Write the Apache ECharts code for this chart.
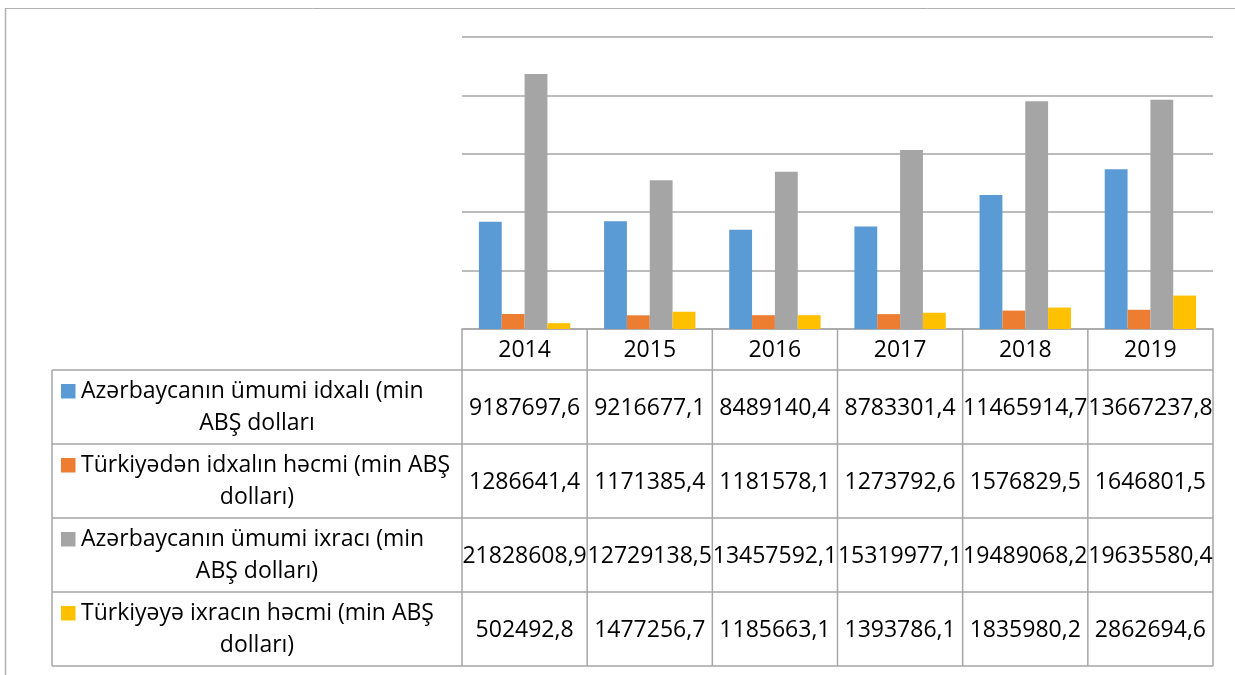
<!DOCTYPE html>
<html>
<head>
<meta charset="utf-8">
<script src="https://cdn.jsdelivr.net/npm/echarts@6/dist/echarts.min.js"></script>
<style>
  html, body { margin: 0; padding: 0; background: #fff; }
  #chart { width: 1235px; height: 675px; }
</style>
</head>
<body>
<div id="chart"></div>
<script>
// Years along the category axis
const years = ['2014', '2015', '2016', '2017', '2018', '2019'];

// Series names (first line / second line as shown in the data table)
const seriesNames = [
  'Azərbaycanın ümumi idxalı (min ABŞ dolları',
  'Türkiyədən idxalın həcmi (min ABŞ dolları)',
  'Azərbaycanın ümumi ixracı (min ABŞ dolları)',
  'Türkiyəyə ixracın həcmi (min ABŞ dolları)'
];
const nameLines = [
  ['Azərbaycanın ümumi idxalı (min', 'ABŞ dolları'],
  ['Türkiyədən idxalın həcmi (min ABŞ', 'dolları)'],
  ['Azərbaycanın ümumi ixracı (min', 'ABŞ dolları)'],
  ['Türkiyəyə ixracın həcmi (min ABŞ', 'dolları)']
];

// Values, thousand USD
const totalImports   = [9187697.6, 9216677.1, 8489140.4, 8783301.4, 11465914.7, 13667237.8];
const importsTurkey  = [1286641.4, 1171385.4, 1181578.1, 1273792.6, 1576829.5, 1646801.5];
const totalExports   = [21828608.9, 12729138.5, 13457592.1, 15319977.1, 19489068.2, 19635580.4];
const exportsTurkey  = [502492.8, 1477256.7, 1185663.1, 1393786.1, 1835980.2, 2862694.6];

const seriesData = [totalImports, importsTurkey, totalExports, exportsTurkey];
const colors = ['#5B9BD5', '#ED7D31', '#A5A5A5', '#FFC000'];

// Layout
const W = 1235, H = 675;
const plotLeft = 462, plotRight = 1213, plotTop = 37, plotBottom = 329;
const tableLeft = 52;
const headerBottom = 370;
const rowH = 74;
const lineColor = '#a6a6a6';
const font = '"Open Sans", "Noto Sans", sans-serif';
const fontSize = 23;

const colW = (plotRight - plotLeft) / years.length;
const colEdges = years.map((_, i) => plotLeft + i * colW).concat([plotRight]);
const tableBottom = headerBottom + rowH * seriesData.length;

const fmt = v => v.toFixed(1).replace('.', ',');

function hLine(x1, x2, y, w, c) {
  return { type: 'line', silent: true, shape: { x1, y1: y, x2, y2: y },
           style: { stroke: c || lineColor, lineWidth: w || 1.5 } };
}
function vLine(x, y1, y2, w, c) {
  return { type: 'line', silent: true, shape: { x1: x, y1, x2: x, y2 },
           style: { stroke: c || lineColor, lineWidth: w || 1.5 } };
}
function txt(x, y, s, align) {
  return { type: 'text', silent: true, x, y,
           style: { text: s, fill: '#000', font: fontSize + 'px ' + font,
                    align: align || 'center', verticalAlign: 'middle' } };
}

const graphics = [];
// outer frame (top and left edges)
graphics.push(hLine(5, W, 8.5, 1, '#b0b0b0'));
graphics.push(vLine(5.5, 8, H, 1.5, '#b0b0b0'));

// data table grid
colEdges.forEach(x => graphics.push(vLine(x, plotBottom, tableBottom)));
graphics.push(vLine(tableLeft, headerBottom, tableBottom));
for (let r = 0; r <= seriesData.length; r++) {
  graphics.push(hLine(tableLeft, plotRight, headerBottom + r * rowH));
}

// header: years
years.forEach((y, i) => {
  graphics.push(txt(colEdges[i] + colW / 2, (plotBottom + headerBottom) / 2 + 1, y));
});

// rows: legend key + name + values
seriesData.forEach((vals, r) => {
  const cy = headerBottom + r * rowH + rowH / 2;
  graphics.push({ type: 'rect', silent: true,
                  shape: { x: 61, y: cy - 23, width: 14.5, height: 14.5 },
                  style: { fill: colors[r] } });
  graphics.push(txt(81, cy - 16, nameLines[r][0], 'left'));
  graphics.push(txt((tableLeft + plotLeft) / 2, cy + 16, nameLines[r][1]));
  vals.forEach((v, i) => {
    graphics.push(txt(colEdges[i] + colW / 2, cy + 1, fmt(v)));
  });
});

const chart = echarts.init(document.getElementById('chart'), null, { renderer: 'canvas' });
chart.setOption({
  backgroundColor: '#fff',
  animation: false,
  grid: { left: plotLeft, right: W - plotRight, top: plotTop, bottom: H - plotBottom },
  xAxis: {
    type: 'category',
    data: years,
    axisLabel: { show: false },
    axisTick: { show: false },
    axisLine: { show: true, lineStyle: { color: lineColor, width: 1.5 } }
  },
  yAxis: {
    type: 'value',
    min: 0, max: 25000000, interval: 5000000,
    axisLabel: { show: false },
    axisLine: { show: false },
    axisTick: { show: false },
    splitLine: { lineStyle: { color: lineColor, width: 1.5 } }
  },
  series: seriesData.map((d, i) => ({
    name: seriesNames[i],
    type: 'bar',
    data: d,
    barGap: '0%',
    barCategoryGap: '27%',
    itemStyle: { color: colors[i] }
  })),
  graphic: graphics
});
</script>
</body>
</html>
